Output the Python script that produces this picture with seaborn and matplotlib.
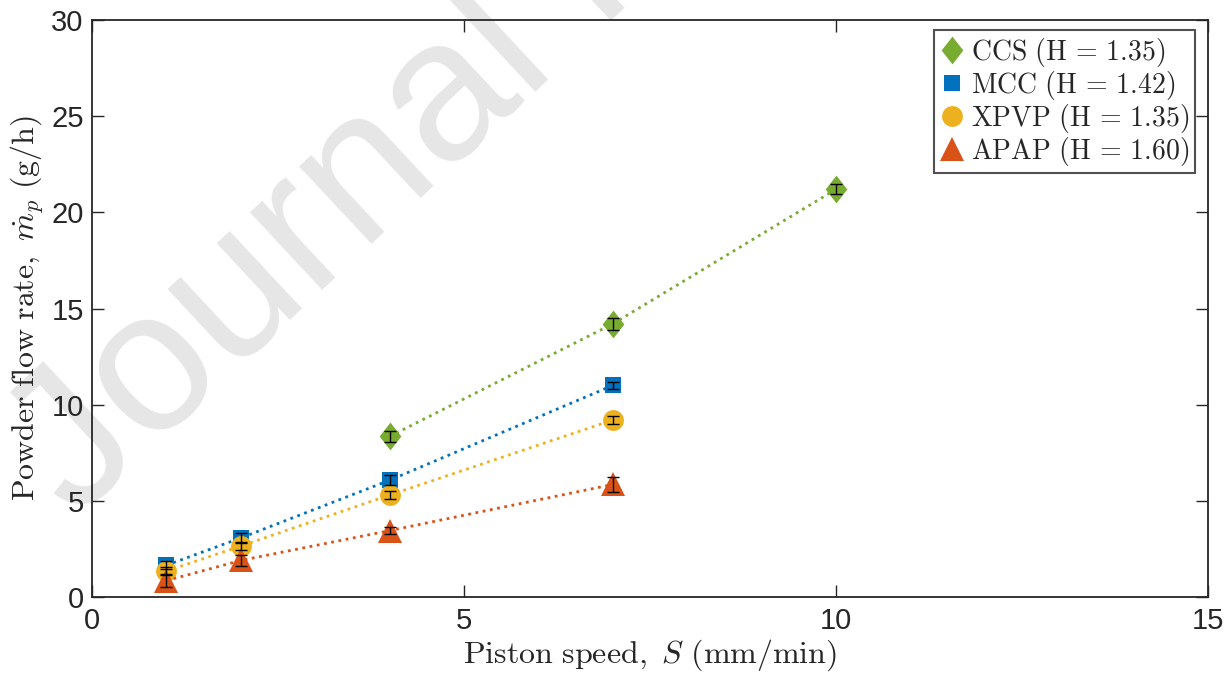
import matplotlib
matplotlib.use("Agg")
import matplotlib.pyplot as plt
import seaborn as sns
import pandas as pd
import numpy as np

# ---- data ----
ccs_x = [4, 7, 10]
ccs_y = [8.35, 14.2, 21.2]
ccs_err = [0.3, 0.3, 0.25]

mcc_x = [1, 2, 4, 7]
mcc_y = [1.65, 3.07, 6.07, 11.0]
mcc_err = [0.2, 0.25, 0.25, 0.2]

xpvp_x = [1, 2, 4, 7]
xpvp_y = [1.35, 2.65, 5.3, 9.2]
xpvp_err = [0.2, 0.2, 0.2, 0.2]

apap_x = [1, 2, 4, 7]
apap_y = [0.85, 1.9, 3.45, 5.85]
apap_err = [0.35, 0.3, 0.2, 0.4]

labels = [r"$\mathrm{CCS\ (H\,=\,1.35)}$", r"$\mathrm{MCC\ (H\,=\,1.42)}$",
          r"$\mathrm{XPVP\ (H\,=\,1.35)}$", r"$\mathrm{APAP\ (H\,=\,1.60)}$"]

sns.set_theme(style="white")
plt.rcParams["font.family"] = ["Liberation Sans", "DejaVu Sans"]
plt.rcParams["mathtext.fontset"] = "cm"

fig = plt.figure(figsize=(12.29, 6.79), dpi=100)
ax = fig.add_axes([92/1229, 1-597/679, (1208-92)/1229, (597-20)/679])
ax.patch.set_visible(False)

diamond = [(-0.78, 0), (0, 1), (0.78, 0), (0, -1), (-0.78, 0)]

series = [
    (ccs_x, ccs_y, ccs_err, "#77AC30", diamond, 20),
    (mcc_x, mcc_y, mcc_err, "#0072BD", "s", 12),
    (xpvp_x, xpvp_y, xpvp_err, "#EDB120", "o", 15),
    (apap_x, apap_y, apap_err, "#D95319", "^", 17),
]

handles = []
for (x, y, e, c, m, ms), lab in zip(series, labels):
    df = pd.DataFrame({"x": x, "y": y})
    sns.lineplot(data=df, x="x", y="y", ax=ax, color=c, linestyle=":", lw=2,
                 marker=m, markersize=ms, markeredgewidth=0, zorder=3)
    ax.errorbar(x, y, yerr=e, fmt="none", ecolor="black", elinewidth=1.0,
                capsize=4, capthick=1.0, zorder=4)
    handles.append(plt.Line2D([], [], color=c, marker=m, markersize=ms,
                              linestyle="none", markeredgewidth=0))

ax.set_xlim(0, 15)
ax.set_ylim(0, 30)
ax.set_xticks([0, 5, 10, 15])
ax.set_yticks([0, 5, 10, 15, 20, 25, 30])
ax.tick_params(direction="in", length=8.5, width=1.0, labelsize=21, colors="#262626",
               top=True, right=True, bottom=True, left=True)
ax.tick_params(axis="x", pad=7)
ax.tick_params(axis="y", pad=6)
for sp in ax.spines.values():
    sp.set_color("#262626")
    sp.set_linewidth(1.3)

ax.set_xlabel(r"$\mathrm{Piston\ speed,}\ S\ \mathrm{(mm/min)}$", fontsize=23, color="#262626", labelpad=2)
ax.set_ylabel(r"$\mathrm{Powder\ flow\ rate,}\ \dot{m}_p\ \mathrm{(g/h)}$", fontsize=23, color="#262626", labelpad=4)

leg = ax.legend(handles, labels, loc="upper right", fontsize=20, frameon=True,
                fancybox=False, edgecolor="#262626", handletextpad=0.25,
                borderpad=0.2, labelspacing=0.0, handlelength=0.9,
                borderaxespad=0, bbox_to_anchor=(1 - 13/1116, 1 - 10/577))
leg.get_frame().set_linewidth(1.5)

fig.text(75/1229, 1 - 520/679, "Journal Pre-proof", fontsize=145, color="#e6e6e6",
         rotation=43, zorder=-1, family="Liberation Sans",
         rotation_mode="anchor", ha="left", va="baseline")

fig.savefig("out.png", dpi=100)
